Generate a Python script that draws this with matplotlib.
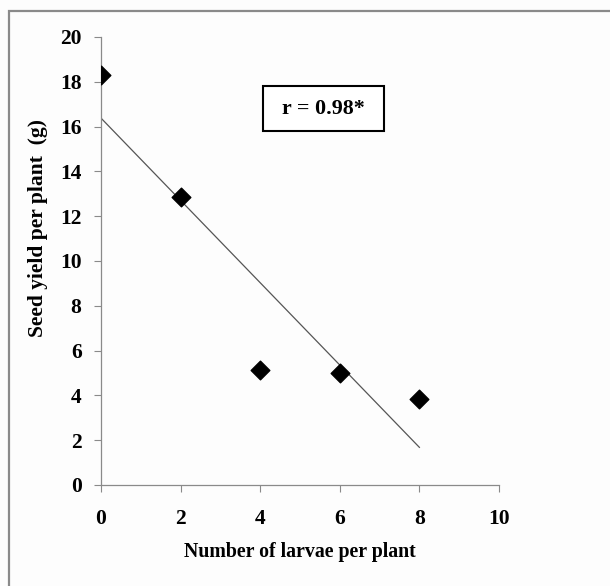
import numpy as np
import matplotlib
matplotlib.use("Agg")
import matplotlib.pyplot as plt
from matplotlib.patches import Rectangle

larvae = [0, 2, 4, 6, 8]
seed_yield = [18.3, 12.85, 5.15, 5.0, 3.85]
x_ticks = [0, 2, 4, 6, 8, 10]
y_ticks = [0, 2, 4, 6, 8, 10, 12, 14, 16, 18, 20]
r_label = "r = 0.98*"

plt.rcParams['font.family'] = ['Liberation Serif', 'DejaVu Serif']

W, H = 610, 586
fig = plt.figure(figsize=(W/100, H/100), dpi=100)
fig.patch.set_facecolor('#fdfdfd')

# outer frame (right/bottom edges are clipped in the reference)
fig.patches.append(Rectangle((9/W, -0.05), 1.1, 0.05 + (H-11)/H,
                             transform=fig.transFigure, fill=False,
                             edgecolor='#8a8a8a', linewidth=1.6))

ax = fig.add_axes([101/W, 101/H, 398/W, 448/H])
ax.set_facecolor('none')

ax.scatter(larvae, seed_yield, marker='D', s=90, color='black', zorder=3)
slope, intercept = np.polyfit(larvae, seed_yield, 1)
xl = np.array([min(larvae), max(larvae)])
ax.plot(xl, slope * xl + intercept, color='#555555', linewidth=0.9)

ax.set_xlim(0, 10)
ax.set_ylim(0, 20)
ax.set_xticks(x_ticks)
ax.set_yticks(y_ticks)
ax.set_xticklabels([str(t) for t in x_ticks], fontsize=15.5, fontweight='bold')
ax.set_yticklabels([str(t) for t in y_ticks], fontsize=15.5, fontweight='bold')
ax.tick_params(direction='out', length=5, width=0.8, color='#8a8a8a')
ax.tick_params(axis='y', pad=9)
ax.tick_params(axis='x', pad=12)
for s in ['top', 'right']:
    ax.spines[s].set_visible(False)
for s in ['left', 'bottom']:
    ax.spines[s].set_color('#8a8a8a')
    ax.spines[s].set_linewidth(0.9)

ax.set_xlabel("Number of larvae per plant", fontsize=14.3, fontweight='bold', labelpad=10)
ax.set_ylabel("Seed yield per plant  (g)", fontsize=15.5, fontweight='bold',
              va='center', ha='center')
ax.yaxis.set_label_coords((38 - 101) / 398, (485 - 228) / 448)

# annotation box
fig.patches.append(Rectangle((263/W, 1 - 131/H), 121/W, 45/H, transform=fig.transFigure,
                             facecolor='white', edgecolor='black', linewidth=1.5, zorder=4))
fig.text(323.5/W, 1 - 108.5/H, r_label, fontsize=15.8, fontweight='bold',
         ha='center', va='center', zorder=5)

fig.savefig("out.png", dpi=100, facecolor=fig.get_facecolor())
